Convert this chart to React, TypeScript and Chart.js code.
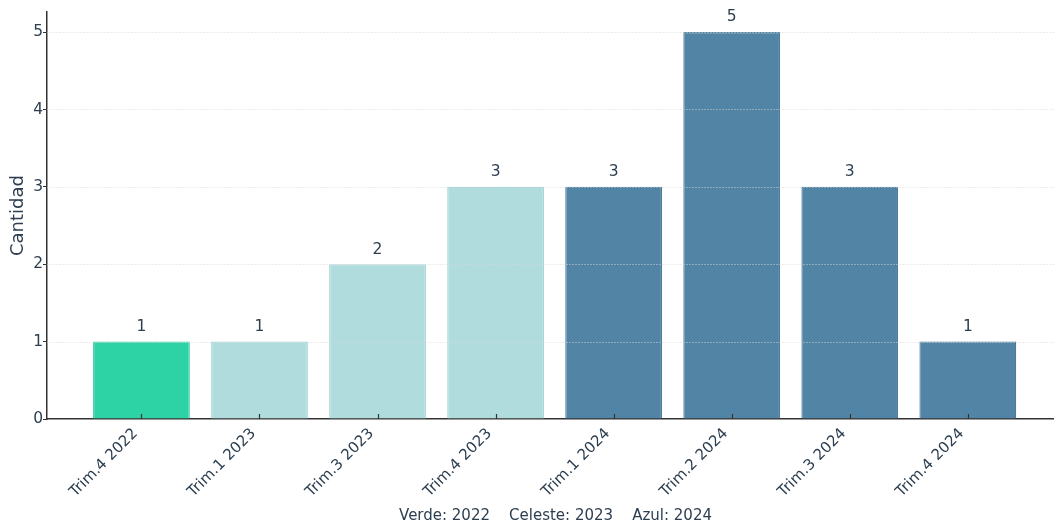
import React, { useEffect, useRef } from "react";
import { Chart, registerables } from "chart.js";

Chart.register(...registerables);

const categories = [
  "Trim.4 2022",
  "Trim.1 2023",
  "Trim.3 2023",
  "Trim.4 2023",
  "Trim.1 2024",
  "Trim.2 2024",
  "Trim.3 2024",
  "Trim.4 2024",
];
const values = [1, 1, 2, 3, 3, 5, 3, 1];
const years = ["2022", "2023", "2023", "2023", "2024", "2024", "2024", "2024"];
const yTicks = [0, 1, 2, 3, 4, 5];
const yTitle = "Cantidad";
const footer = "Verde: 2022    Celeste: 2023    Azul: 2024";

const fillByYear: Record<string, string> = {
  "2022": "#2ed3a5",
  "2023": "#b0dcdd",
  "2024": "#5285a5",
};
const edgeByYear: Record<string, string> = {
  "2022": "#3ccfa6",
  "2023": "#a5d6d7",
  "2024": "#4a7d9c",
};

const TEXT = "#2c3e50";
const FONT = "'DejaVu Sans', sans-serif";

const overlayPlugin = {
  id: "overlay",
  afterDatasetsDraw(chart: any) {
    const { ctx, chartArea, scales } = chart;
    const x = scales.x;
    const y = scales.y;
    ctx.save();
    // faint grid lines over bars
    ctx.strokeStyle = "rgba(215,215,215,0.45)";
    ctx.lineWidth = 1;
    ctx.setLineDash([2, 1]);
    for (const t of yTicks) {
      if (t === 0) continue;
      const py = Math.round(y.getPixelForValue(t)) + 0.5;
      ctx.beginPath();
      ctx.moveTo(chartArea.left, py);
      ctx.lineTo(chartArea.right, py);
      ctx.stroke();
    }
    ctx.setLineDash([]);
    // inner x ticks
    ctx.strokeStyle = "#333";
    ctx.lineWidth = 1.2;
    categories.forEach((_, i) => {
      const px = Math.round(x.getPixelForValue(i)) + 0.5;
      ctx.beginPath();
      ctx.moveTo(px, chartArea.bottom);
      ctx.lineTo(px, chartArea.bottom - 5);
      ctx.stroke();
    });
    // value labels
    ctx.fillStyle = TEXT;
    ctx.font = `15.5px ${FONT}`;
    ctx.textAlign = "center";
    ctx.textBaseline = "bottom";
    values.forEach((v, i) => {
      const px = x.getPixelForValue(i);
      const py = y.getPixelForValue(v);
      ctx.fillText(String(v), px, py - 7);
    });
    // footer
    ctx.font = `15px ${FONT}`;
    ctx.textBaseline = "middle";
    ctx.fillText(footer, (chart.width + 57) / 2, chart.height - 8);
    ctx.restore();
  },
};

export default function App() {
  const ref = useRef<HTMLCanvasElement | null>(null);

  useEffect(() => {
    document.body.style.margin = "0";
    const canvas = ref.current!;
    const chart = new Chart(canvas, {
      type: "bar",
      data: {
        datasets: [
          {
            data: values.map((v, i) => ({ x: i, y: v })),
            backgroundColor: years.map((yr) => fillByYear[yr]),
            borderColor: years.map((yr) => edgeByYear[yr]),
            borderWidth: 1.2,
            barPercentage: 0.82,
            categoryPercentage: 1,
          },
        ],
      },
      options: {
        animation: false,
        responsive: false,
        maintainAspectRatio: false,
        devicePixelRatio: 1,
        layout: { padding: { top: 12, right: 0, left: 0, bottom: 0 } },
        plugins: {
          legend: { display: false },
          tooltip: { enabled: false },
        },
        scales: {
          x: {
            type: "linear",
            offset: false,
            min: -0.8,
            max: 7.73,
            afterBuildTicks: (scale: any) => {
              scale.ticks = categories.map((_, i) => ({ value: i }));
            },
            afterFit: (scale: any) => {
              scale.height = 105;
            },
            grid: { display: false },
            border: { display: true, color: "#333", width: 1.5 },
            ticks: {
              autoSkip: false,
              minRotation: 45,
              maxRotation: 45,
              padding: -2,
              labelOffset: -6,
              color: TEXT,
              font: { family: FONT, size: 15 },
              callback: (v: any) => categories[Number(v)] ?? "",
            },
          },
          y: {
            min: 0,
            max: 5.26,
            afterBuildTicks: (scale: any) => {
              scale.ticks = yTicks.map((t) => ({ value: t }));
            },
            afterFit: (scale: any) => {
              scale.width = 47;
            },
            grid: {
              display: true,
              drawOnChartArea: false,
              drawTicks: true,
              tickLength: 4,
              color: "#333",
              lineWidth: 1,
            },
            border: { display: true, color: "#333", width: 1.5 },
            title: {
              display: true,
              text: yTitle,
              color: TEXT,
              font: { family: FONT, size: 18 },
              padding: { top: 8, bottom: 0 },
            },
            ticks: {
              padding: 0,
              color: TEXT,
              font: { family: FONT, size: 15.5 },
            },
          },
        },
      },
      plugins: [overlayPlugin],
    });
    return () => chart.destroy();
  }, []);

  return (
    <div style={{ width: 1054, height: 524 }}>
      <canvas ref={ref} width={1054} height={524} style={{ display: "block", width: 1054, height: 524 }} />
    </div>
  );
}
